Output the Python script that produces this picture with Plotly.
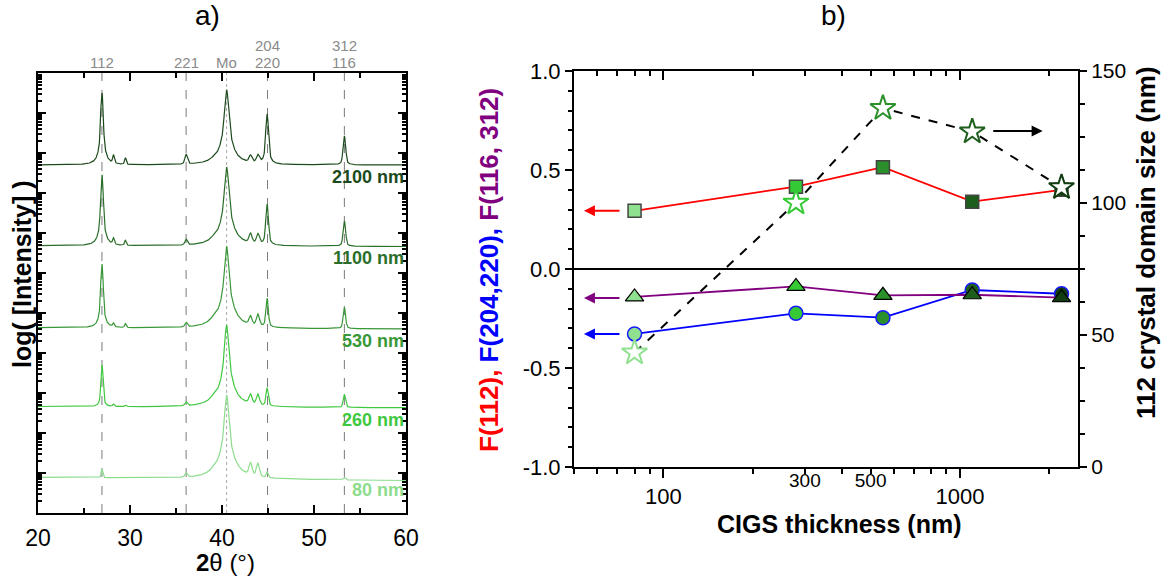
import numpy as np
import plotly.graph_objects as go

W, H = 1172, 581
FONT = "Liberation Sans, Arial, sans-serif"

# ---------------- panel a: XRD patterns ----------------
sample_labels = ["2100 nm", "1100 nm", "530 nm", "260 nm", "80 nm"]
sample_colors = ["#1c4a1c", "#2a6e2a", "#389838", "#3fc83f", "#8edc8e"]
label_px_y = [177, 258, 341, 420, 490]

# background level (log10 of counts) at 20 deg and at 60 deg
baseline_log_start = [8.70, 6.68, 4.63, 2.66, 0.89]
baseline_log_end = [8.70, 6.66, 4.60, 2.63, 0.81]

# reflections: position (deg), FWHM (deg), Lorentzian fraction
peak_pos = [26.95, 28.2, 29.5, 36.1, 39.1, 40.5, 43.1, 43.9, 44.9, 53.3]
peak_fwhm = [0.20, 0.20, 0.20, 0.30, 0.80, 0.32, 0.35, 0.35, 0.24, 0.26]
peak_eta = [0.35, 0.3, 0.3, 0.3, 1.0, 0.6, 0.4, 0.4, 0.35, 0.35]

# peak height above background, in decades, one row per sample
peak_decades = [
    [1.80, 0.22, 0.17, 0.25, 0.05, 1.88, 0.20, 0.22, 1.27, 0.72],
    [1.78, 0.17, 0.13, 0.15, 0.08, 1.98, 0.28, 0.28, 1.05, 0.63],
    [1.60, 0.10, 0.10, 0.12, 0.12, 2.05, 0.26, 0.33, 0.75, 0.53],
    [1.05, 0.06, 0.04, 0.10, 0.12, 2.05, 0.28, 0.30, 0.47, 0.33],
    [0.22, 0.00, 0.00, 0.12, 0.08, 2.10, 0.37, 0.37, 0.15, 0.06],
]

ref_lines = [26.95, 36.1, 44.95, 53.3]
mo_line = 40.5
ref_labels = [(26.95, ["112"]), (36.1, ["221"]), (40.5, ["Mo"]),
              (44.95, ["204", "220"]), (53.3, ["312", "116"])]

two_theta = np.arange(20.0, 60.0001, 0.02)


def pseudo_voigt(x, x0, fwhm, eta):
    hw = fwhm / 2.0
    lor = hw ** 2 / ((x - x0) ** 2 + hw ** 2)
    gau = np.exp(-np.log(2) * ((x - x0) / hw) ** 2)
    return eta * lor + (1 - eta) * gau


# ---------------- panel b: texture coefficients ----------------
thickness_nm = [80, 280, 550, 1100, 2200]
point_colors = ["#8fe08f", "#35c935", "#2b8f2b", "#1d5e1d", "#123d12"]
f112 = [0.294, 0.416, 0.514, 0.340, 0.400]
f204_220 = [-0.328, -0.224, -0.246, -0.106, -0.125]
f116_312 = [-0.141, -0.088, -0.133, -0.130, -0.145]
domain_size_nm = [43.3, 100.1, 135.9, 127.0, 105.9]

fig = go.Figure()

for i, name in enumerate(sample_labels):
    base = 10 ** np.linspace(baseline_log_start[i], baseline_log_end[i], two_theta.size)
    prof = np.ones_like(two_theta)
    for p, w, e, h in zip(peak_pos, peak_fwhm, peak_eta, peak_decades[i]):
        prof += (10 ** h - 1) * pseudo_voigt(two_theta, p, w, e)
    fig.add_trace(go.Scatter(
        x=two_theta, y=base * prof, mode="lines", name=name,
        line=dict(color=sample_colors[i], width=1.2),
        xaxis="x", yaxis="y", showlegend=False, hoverinfo="skip"))

# F(204,220)
fig.add_trace(go.Scatter(
    x=thickness_nm, y=f204_220, mode="lines+markers", xaxis="x2", yaxis="y2",
    line=dict(color="#0000ff", width=1.8),
    marker=dict(symbol="circle", size=14, color=point_colors,
                line=dict(color="#1a1aff", width=1.5)),
    showlegend=False))
# F(116,312)
fig.add_trace(go.Scatter(
    x=thickness_nm, y=f116_312, mode="lines+markers", xaxis="x2", yaxis="y2",
    line=dict(color="#800080", width=1.8),
    marker=dict(symbol="triangle-up", size=16, color=point_colors,
                line=dict(color="#000000", width=1.2)),
    showlegend=False))
# F(112)
fig.add_trace(go.Scatter(
    x=thickness_nm, y=f112, mode="lines+markers", xaxis="x2", yaxis="y2",
    line=dict(color="#ff0000", width=1.8),
    marker=dict(symbol="square", size=13, color=point_colors,
                line=dict(color="#444444", width=1.5)),
    showlegend=False))
# 112 crystal domain size (right axis)
fig.add_trace(go.Scatter(
    x=thickness_nm, y=domain_size_nm, mode="lines+markers", xaxis="x2", yaxis="y3",
    line=dict(color="#000000", width=2, dash="dash"),
    marker=dict(symbol="star", size=19, color="white",
                line=dict(color=point_colors, width=2)),
    showlegend=False))
# hidden carriers so the top frame axis and the extra label axis get drawn
for ax_id in ["x3", "x4"]:
    fig.add_trace(go.Scatter(x=thickness_nm, y=f112, xaxis=ax_id, yaxis="y2",
                             mode="markers", marker=dict(opacity=0),
                             hoverinfo="skip", showlegend=False))

shapes = []
for xv in ref_lines:
    shapes.append(dict(type="line", xref="x", yref="y domain", x0=xv, x1=xv, y0=0, y1=1,
                       line=dict(color="#7a7a7a", width=1, dash="dash"), layer="below"))
shapes.append(dict(type="line", xref="x", yref="y domain", x0=mo_line, x1=mo_line, y0=0, y1=1,
                   line=dict(color="#a8a8a8", width=1, dash="dot"), layer="below"))

ann = []


def paper_text(text, px, py, size, color="black", angle=0, xanchor="center"):
    ann.append(dict(text=text, x=px / W, y=1 - py / H, xref="paper", yref="paper",
                    showarrow=False, textangle=angle, xanchor=xanchor, yanchor="middle",
                    font=dict(size=size, color=color, family=FONT)))


paper_text("a)", 207, 15, 28)
paper_text("b)", 833, 15, 28)
paper_text("<b>log( [Intensity] )</b>", 22, 275, 25, angle=-90)
paper_text("<b>2</b>θ (°)", 225, 562, 24)
paper_text("<b>CIGS thickness (nm)</b>", 839, 524, 25)
paper_text("<b><span style='color:#ff0000'>F(112),</span> "
           "<span style='color:#0000ff'>F(204,220),</span> "
           "<span style='color:#800080'>F(116, 312)</span></b>", 489, 270, 26, angle=-90)
paper_text("<b>112 crystal domain size (nm)</b>", 1146, 243, 26, angle=-90)

for xv, lines in ref_labels:
    for k, t in enumerate(lines):
        py = 62 - 17 * (len(lines) - 1 - k)
        ann.append(dict(text=t, x=xv, xref="x", y=1 - py / H, yref="paper", showarrow=False,
                        xanchor="center", yanchor="middle",
                        font=dict(size=15, color="#8a8a8a", family=FONT)))

for name, col, py in zip(sample_labels, sample_colors, label_px_y):
    ann.append(dict(text="<b>%s</b>" % name, x=60, xref="x", y=1 - py / H, yref="paper",
                    showarrow=False, xanchor="right", yanchor="middle",
                    font=dict(size=18, color=col, family=FONT)))

# arrows pointing to the axis each series belongs to
for yv, col in [(f112[0], "#ff0000"), (f116_312[0] - 0.005, "#800080"), (f204_220[0], "#0000ff")]:
    ann.append(dict(x=np.log10(54), y=yv, xref="x2", yref="y2",
                    ax=np.log10(72), ay=yv, axref="x2", ayref="y2",
                    showarrow=True, arrowhead=2, arrowsize=1.1, arrowwidth=2, arrowcolor=col,
                    text=""))
ann.append(dict(x=np.log10(1900), y=127.3, xref="x2", yref="y3",
                ax=np.log10(1280), ay=127.3, axref="x2", ayref="y3",
                showarrow=True, arrowhead=2, arrowsize=1.1, arrowwidth=2, arrowcolor="black",
                text=""))

log_minor = [m * 10 ** k for k in range(0, 11) for m in range(2, 10)]
thick_minor = [50, 60, 70, 80, 90, 200, 300, 400, 500, 600, 700, 800, 900, 2000]
xr = [np.log10(50), np.log10(2500)]

axis_common = dict(showgrid=False, zeroline=False, showline=True, linecolor="black",
                   linewidth=2, tickcolor="black", tickwidth=1.5, automargin=False)

fig.update_layout(
    width=W, height=H, margin=dict(l=0, r=0, t=0, b=0, autoexpand=False),
    paper_bgcolor="white", plot_bgcolor="white",
    font=dict(family=FONT, color="black"),
    shapes=shapes, annotations=ann,
    xaxis=dict(domain=[38 / W, 406 / W], range=[20, 60], dtick=10, anchor="y",
               ticks="inside", ticklen=8, mirror="allticks", ticklabelstandoff=3,
               minor=dict(dtick=5, ticks="inside", ticklen=5, tickcolor="black"),
               tickfont=dict(size=23), **axis_common),
    yaxis=dict(domain=[(H - 513) / H, (H - 73) / H], type="log", range=[0, 11], dtick=1,
               anchor="x", showticklabels=False, ticks="inside", ticklen=8, mirror="allticks",
               minor=dict(tickmode="array", tickvals=log_minor, ticks="inside", ticklen=4,
                          tickcolor="black"),
               **axis_common),
    xaxis2=dict(domain=[574 / W, 1078 / W], type="log", range=xr, anchor="y2",
                tickmode="array", tickvals=[100, 1000], ticktext=["100", "1000"],
                ticks="outside", ticklen=9, tickfont=dict(size=22),
                minor=dict(tickmode="array", tickvals=thick_minor, ticks="outside",
                           ticklen=5, tickcolor="black"),
                **axis_common),
    xaxis3=dict(domain=[574 / W, 1078 / W], type="log", range=xr, anchor="y2",
                overlaying="x2", side="top", tickmode="array", tickvals=[100, 1000],
                showticklabels=False, ticks="inside", ticklen=9,
                minor=dict(tickmode="array", tickvals=thick_minor, ticks="inside",
                           ticklen=5, tickcolor="black"),
                **axis_common),
    xaxis4=dict(domain=[574 / W, 1078 / W], type="log", range=xr, anchor="y2",
                overlaying="x2", side="bottom", tickmode="array", tickvals=[300, 500],
                ticktext=["300", "500"], ticks="", showline=False, showgrid=False,
                zeroline=False, tickfont=dict(size=19), automargin=False),
    yaxis2=dict(domain=[(H - 467) / H, (H - 71) / H], range=[-1, 1], anchor="x2",
                tickmode="array", tickvals=[-1, -0.5, 0, 0.5, 1],
                ticktext=["-1.0", "-0.5", "0.0", "0.5", "1.0"],
                ticks="outside", ticklen=7, tickfont=dict(size=22),
                minor=dict(dtick=0.1, ticks="outside", ticklen=4, tickcolor="black"),
                showgrid=False, showline=True, linecolor="black", linewidth=2,
                tickcolor="black", tickwidth=1.5, automargin=False,
                zeroline=True, zerolinecolor="black", zerolinewidth=2),
    yaxis3=dict(domain=[(H - 467) / H, (H - 71) / H], range=[0, 150], anchor="x2",
                overlaying="y2", side="right", dtick=50, ticks="outside", ticklen=7,
                tickfont=dict(size=21),
                minor=dict(dtick=12.5, ticks="outside", ticklen=5, tickcolor="black"),
                **axis_common),
)

fig.write_html("out.html")
